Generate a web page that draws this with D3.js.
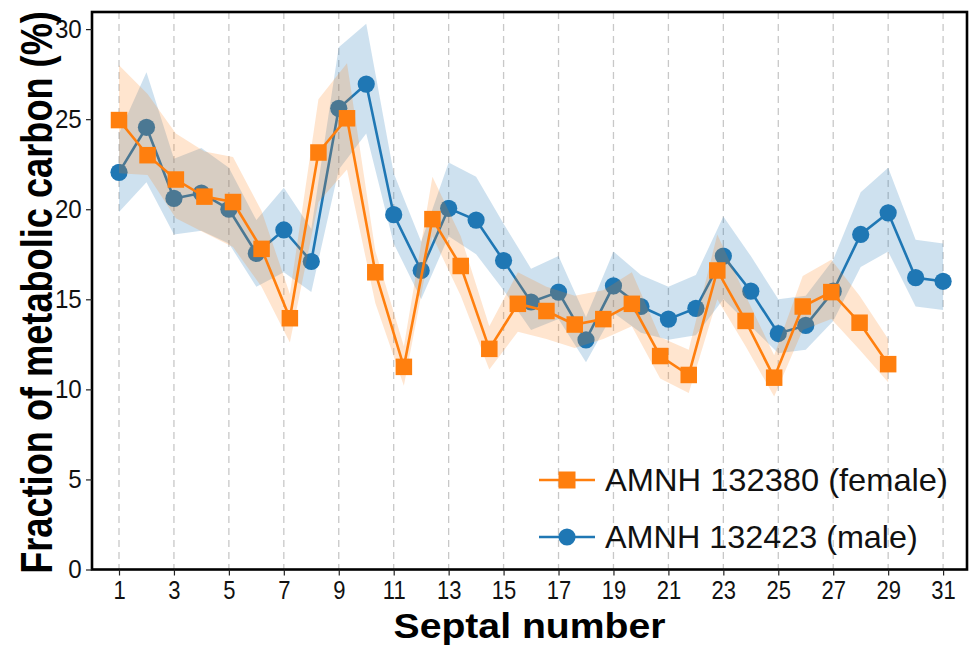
<!DOCTYPE html>
<html>
<head>
<meta charset="utf-8">
<script src="https://cdn.jsdelivr.net/npm/d3@7"></script>
<style>
  html, body { margin: 0; padding: 0; background: #fff; }
  svg { display: block; }
  text { font-family: "Liberation Sans", Arial, sans-serif; }
</style>
</head>
<body>
<svg id="chart" width="973" height="645"></svg>
<script>
// ---------- data ----------
const xTickValues = [1, 3, 5, 7, 9, 11, 13, 15, 17, 19, 21, 23, 25, 27, 29, 31];
const yTickValues = [0, 5, 10, 15, 20, 25, 30];

const femaleLabel = "AMNH 132380 (female)";
const femaleX = [1, 2.04, 3.07, 4.11, 5.15, 6.19, 7.22, 8.26, 9.30, 10.33, 11.37, 12.41, 13.44, 14.48,
                 15.52, 16.56, 17.59, 18.63, 19.67, 20.70, 21.74, 22.78, 23.81, 24.85, 25.89, 26.93, 27.96, 29];
const femaleY = [24.95, 23.0, 21.65, 20.7, 20.4, 17.8, 13.95, 23.15, 25.05, 16.5, 11.25, 19.45, 16.85, 12.25,
                 14.75, 14.35, 13.6, 13.9, 14.75, 11.85, 10.8, 16.6, 13.8, 10.65, 14.6, 15.4, 13.7, 11.4];
const femaleUpper = [28.0, 26.4, 24.2, 23.2, 22.9, 19.9, 15.3, 26.1, 28.1, 17.7, 12.4, 21.8, 18.5, 13.5,
                     16.5, 15.7, 15.2, 15.5, 16.5, 12.9, 12.2, 18.6, 15.2, 11.9, 16.3, 17.2, 15.2, 12.8];
const femaleLower = [22.0, 21.9, 19.5, 18.7, 17.9, 15.7, 12.6, 20.4, 22.2, 14.8, 10.2, 18.5, 15.2, 11.1,
                     13.2, 12.8, 12.3, 12.8, 13.5, 10.6, 9.8, 15.0, 12.4, 9.6, 13.3, 13.9, 12.2, 10.4];

const maleLabel = "AMNH 132423 (male)";
const maleX = [1, 2, 3, 4, 5, 6, 7, 8, 9, 10, 11, 12, 13, 14, 15, 16, 17, 18, 19, 20,
               21, 22, 23, 24, 25, 26, 27, 28, 29, 30, 31];
const maleY = [22.05, 24.55, 20.6, 20.9, 20.0, 17.55, 18.85, 17.1, 25.6, 26.95, 19.7, 16.6, 20.05, 19.4, 17.15,
               14.85, 15.4, 12.75, 15.75, 14.6, 13.9, 14.5, 17.4, 15.45, 13.1, 13.55, 15.45, 18.6, 19.8, 16.2, 16.0];
const maleUpper = [24.2, 27.6, 22.8, 23.4, 22.3, 19.4, 21.2, 18.9, 29.0, 30.3, 22.0, 18.2, 22.6, 21.8, 19.2,
                   16.7, 17.4, 14.0, 17.65, 16.35, 15.7, 16.35, 19.6, 17.4, 15.0, 15.2, 17.2, 20.95, 22.3, 18.3, 18.1];
const maleLower = [19.85, 21.5, 18.6, 18.8, 18.1, 15.7, 16.5, 15.4, 22.2, 24.2, 18.1, 15.0, 18.5, 17.5, 15.5,
                   13.3, 13.9, 11.5, 14.25, 13.15, 12.75, 13.0, 15.0, 13.5, 12.0, 12.2, 13.8, 16.8, 17.65, 14.6, 14.4];

const xTitle = "Septal number";
const yTitle = "Fraction of metabolic carbon (%)";

// ---------- layout ----------
const BLUE = "#1f77b4", ORANGE = "#ff7f0e";
const plot = { left: 92, top: 12, right: 967, bottom: 569.5 };

const svg = d3.select("#chart");
const x = d3.scaleLinear().domain([0.017, 31.87]).range([plot.left, plot.right]);
const y = d3.scaleLinear().domain([0, 30.95]).range([plot.bottom, plot.top]);

// grid
svg.append("g").selectAll("line").data(xTickValues).join("line")
  .attr("x1", d => x(d)).attr("x2", d => x(d))
  .attr("y1", plot.top).attr("y2", plot.bottom)
  .attr("stroke", "#c8c8c8").attr("stroke-width", 1.3)
  .attr("stroke-dasharray", "7,5");

function build(xs, ys, lo, hi) {
  return xs.map((d, i) => ({ x: d, y: ys[i], lo: lo[i], hi: hi[i] }));
}
const female = build(femaleX, femaleY, femaleLower, femaleUpper);
const male = build(maleX, maleY, maleLower, maleUpper);

const area = d3.area().x(d => x(d.x)).y0(d => y(d.lo)).y1(d => y(d.hi));
const line = d3.line().x(d => x(d.x)).y(d => y(d.y));

// male
svg.append("path").datum(male).attr("d", area).attr("fill", BLUE).attr("fill-opacity", 0.22);
svg.append("path").datum(male).attr("d", line).attr("fill", "none").attr("stroke", BLUE).attr("stroke-width", 2.6);
svg.append("g").selectAll("circle").data(male).join("circle")
  .attr("cx", d => x(d.x)).attr("cy", d => y(d.y)).attr("r", 8.6).attr("fill", BLUE);

// female
svg.append("path").datum(female).attr("d", area).attr("fill", ORANGE).attr("fill-opacity", 0.2);
svg.append("path").datum(female).attr("d", line).attr("fill", "none").attr("stroke", ORANGE).attr("stroke-width", 2.6);
const sq = 16.5;
svg.append("g").selectAll("rect").data(female).join("rect")
  .attr("x", d => x(d.x) - sq / 2).attr("y", d => y(d.y) - sq / 2)
  .attr("width", sq).attr("height", sq).attr("fill", ORANGE);

// frame
svg.append("rect")
  .attr("x", plot.left).attr("y", plot.top)
  .attr("width", plot.right - plot.left).attr("height", plot.bottom - plot.top)
  .attr("fill", "none").attr("stroke", "#000").attr("stroke-width", 2.6);

// axes
const xAxis = svg.append("g").attr("transform", `translate(0,${plot.bottom})`)
  .call(d3.axisBottom(x).tickValues(xTickValues).tickSize(6).tickPadding(6).tickFormat(d3.format("d")));
xAxis.select(".domain").remove();
xAxis.selectAll("line").attr("stroke", "#222").attr("stroke-width", 1.2);
xAxis.selectAll("text").attr("font-size", 25).attr("fill", "#111")
  .attr("transform", "scale(0.88,1)");

const yAxis = svg.append("g").attr("transform", `translate(${plot.left},0)`)
  .call(d3.axisLeft(y).tickValues(yTickValues).tickSize(6).tickPadding(5).tickFormat(d3.format("d")));
yAxis.select(".domain").remove();
yAxis.selectAll("line").attr("stroke", "#222").attr("stroke-width", 1.2);
yAxis.selectAll("text").attr("font-size", 26).attr("fill", "#111")
  .attr("transform", "scale(0.93,1)");

// titles (scaled horizontally to the reference width)
function fitText(sel, target) {
  const len = sel.node().getComputedTextLength();
  return len > 0 ? target / len : 1;
}
const xt = svg.append("text")
  .attr("text-anchor", "middle").attr("font-size", 36).attr("font-weight", "bold")
  .text(xTitle);
const sx = fitText(xt, 272);
xt.attr("transform", `translate(${(plot.left + plot.right) / 2},637.5) scale(${sx},1)`);

const yt = svg.append("text")
  .attr("text-anchor", "middle").attr("font-size", 44).attr("font-weight", "bold")
  .text(yTitle);
const sy = fitText(yt, 563);
yt.attr("transform", `translate(52,${(10 + 575) / 2}) rotate(-90) scale(${sy},1)`);

// legend
const legend = [
  { label: femaleLabel, color: ORANGE, shape: "square", yy: 480, w: 343 },
  { label: maleLabel, color: BLUE, shape: "circle", yy: 537, w: 313 }
];
const lg = svg.append("g");
legend.forEach(l => {
  lg.append("line").attr("x1", 539).attr("x2", 595).attr("y1", l.yy).attr("y2", l.yy)
    .attr("stroke", l.color).attr("stroke-width", 2.6);
  if (l.shape === "square") {
    lg.append("rect").attr("x", 567 - 8.5).attr("y", l.yy - 8.5).attr("width", 17).attr("height", 17).attr("fill", l.color);
  } else {
    lg.append("circle").attr("cx", 567).attr("cy", l.yy).attr("r", 8.6).attr("fill", l.color);
  }
  const t = lg.append("text").attr("font-size", 31).attr("fill", "#111").text(l.label);
  const s = fitText(t, l.w);
  t.attr("transform", `translate(605,${l.yy + 11}) scale(${s},1)`);
});
</script>
</body>
</html>
